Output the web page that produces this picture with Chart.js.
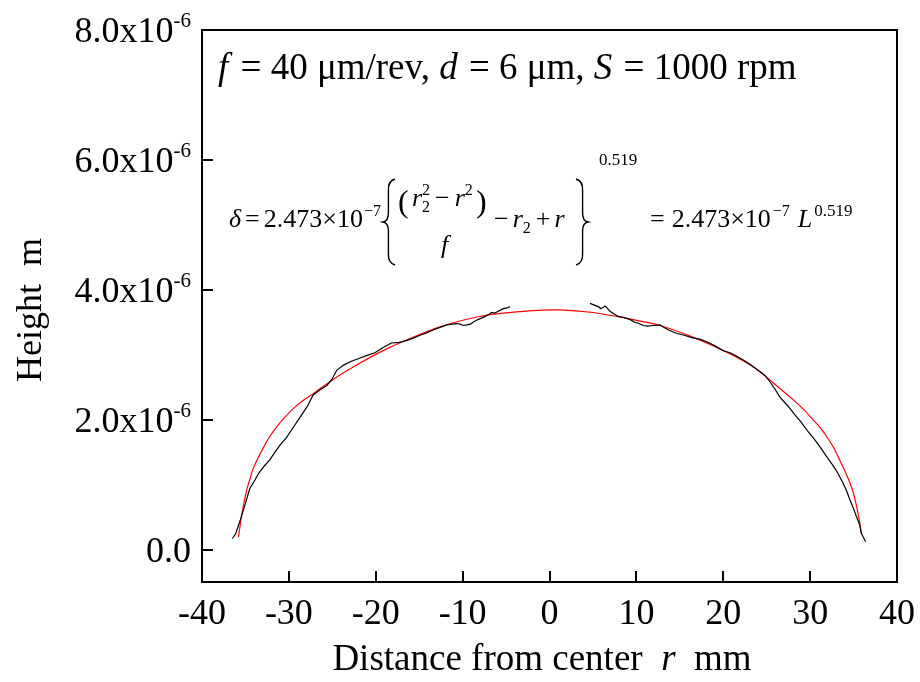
<!DOCTYPE html>
<html>
<head>
<meta charset="utf-8">
<script src="https://cdn.jsdelivr.net/npm/chart.js@4.4.1/dist/chart.umd.min.js"></script>
<style>
html,body{margin:0;padding:0;background:#fff;}
#wrap{width:920px;height:682px;position:relative;}
</style>
</head>
<body>
<div id="wrap"><canvas id="c" width="920" height="682"></canvas></div>
<script>
// ---- data (heights in units of 1e-6 m) ----
const xTickValues = [-40, -30, -20, -10, 0, 10, 20, 30, 40];
const xTickLabels = ["-40", "-30", "-20", "-10", "0", "10", "20", "30", "40"];
const yTickValues = [0, 2, 4, 6, 8];
const yTickMantissa = ["0.0", "2.0x10", "4.0x10", "6.0x10", "8.0x10"];
const yTickExponent = ["", "-6", "-6", "-6", "-6"];

// measured profile, left part
const measLeftR = [-36.5, -36.1, -35.6, -35.0, -34.5, -33.9, -33.5, -32.8, -32.2, -31.6, -31.0, -30.3, -29.7, -28.7, -27.9, -27.2, -26.4, -25.6, -25.0, -24.5, -23.7, -22.8, -21.8, -21.0, -20.1, -19.3, -18.2, -17.3, -16.4, -15.6, -14.9, -14.1, -13.4, -12.6, -11.8, -10.7, -10.3, -9.9, -9.5, -9.1, -8.8, -8.4, -7.9, -7.4, -7.0, -6.65, -6.3, -5.9, -5.6, -5.3, -4.9, -4.55];
const measLeftH = [0.17, 0.25, 0.45, 0.71, 0.94, 1.07, 1.17, 1.29, 1.38, 1.50, 1.61, 1.72, 1.84, 2.04, 2.20, 2.38, 2.46, 2.53, 2.63, 2.76, 2.84, 2.90, 2.95, 2.99, 3.03, 3.10, 3.18, 3.19, 3.22, 3.26, 3.30, 3.34, 3.38, 3.42, 3.46, 3.48, 3.47, 3.45, 3.46, 3.47, 3.50, 3.53, 3.56, 3.59, 3.62, 3.65, 3.64, 3.67, 3.69, 3.71, 3.72, 3.74];
// measured profile, right part
const measRightR = [4.66, 5.24, 5.6, 5.9, 6.2, 6.4, 6.7, 6.96, 7.4, 7.9, 8.4, 8.9, 9.3, 9.8, 10.3, 10.8, 11.3, 11.9, 12.3, 12.7, 13.2, 13.7, 14.6, 15.5, 16.5, 17.3, 18.1, 19.0, 20.0, 20.8, 21.5, 22.3, 23.1, 23.6, 24.2, 24.8, 25.4, 26.0, 26.5, 27.1, 27.7, 28.2, 28.8, 29.3, 29.8, 30.7, 31.3, 31.9, 32.5, 33.0, 33.4, 33.8, 34.2, 34.6, 35.0, 35.35, 35.7, 35.9, 36.15, 36.4];
const measRightH = [3.79, 3.76, 3.74, 3.71, 3.73, 3.75, 3.71, 3.67, 3.63, 3.59, 3.58, 3.56, 3.54, 3.50, 3.48, 3.45, 3.44, 3.45, 3.45, 3.46, 3.42, 3.38, 3.33, 3.30, 3.26, 3.24, 3.20, 3.14, 3.06, 3.03, 2.98, 2.92, 2.85, 2.80, 2.74, 2.68, 2.58, 2.46, 2.35, 2.26, 2.17, 2.08, 1.99, 1.90, 1.81, 1.66, 1.55, 1.43, 1.32, 1.22, 1.12, 1.02, 0.90, 0.76, 0.63, 0.50, 0.38, 0.25, 0.18, 0.12];
// fitted curve
const fitR = [-35.8, -35.6, -35.4, -35.1, -34.85, -34.5, -34.1, -33.5, -32.9, -32.2, -31.4, -30.5, -29.5, -28.4, -27.2, -24.9, -22.2, -19.5, -16.4, -12.6, -7.6, -1.9, 1.2, 5.0, 8.9, 12.7, 16.5, 20.4, 23.5, 25.8, 28.1, 29.3, 30.4, 31.2, 31.9, 32.7, 33.4, 34.0, 34.6, 35.0, 35.35, 35.65, 35.9];
const fitH = [0.19, 0.38, 0.56, 0.76, 0.92, 1.08, 1.25, 1.42, 1.58, 1.74, 1.89, 2.03, 2.17, 2.29, 2.40, 2.62, 2.84, 3.04, 3.23, 3.43, 3.60, 3.68, 3.69, 3.65, 3.56, 3.45, 3.27, 3.04, 2.81, 2.56, 2.30, 2.15, 1.99, 1.87, 1.74, 1.57, 1.38, 1.21, 1.02, 0.86, 0.66, 0.46, 0.25];

const xTitle = ["Distance from center  ", "r", "  mm"];
const yTitle = "Height  m";

const zip = (a, b) => a.map((v, i) => ({x: v, y: b[i]}));
const SERIF = '"Liberation Serif", "Times New Roman", serif';

const framePlugin = {
  id: 'frame',
  afterDraw(chart) {
    const ctx = chart.ctx, ca = chart.chartArea;
    const xs = chart.scales.x, ys = chart.scales.y;
    ctx.save();
    ctx.strokeStyle = '#000';
    ctx.lineWidth = 2;
    ctx.strokeRect(ca.left, ca.top, ca.right - ca.left, ca.bottom - ca.top);
    // inward ticks
    ctx.beginPath();
    xTickValues.forEach(v => {
      const px = Math.round(xs.getPixelForValue(v));
      ctx.moveTo(px, ca.bottom); ctx.lineTo(px, ca.bottom - 11);
    });
    yTickValues.forEach(v => {
      const py = Math.round(ys.getPixelForValue(v));
      ctx.moveTo(ca.left, py); ctx.lineTo(ca.left + 11, py);
    });
    ctx.stroke();
    ctx.fillStyle = '#000';
    // x tick labels
    ctx.font = '36px ' + SERIF;
    ctx.textAlign = 'center';
    ctx.textBaseline = 'alphabetic';
    xTickValues.forEach((v, i) => {
      ctx.fillText(xTickLabels[i], xs.getPixelForValue(v), 624);
    });
    // y tick labels with superscript
    yTickValues.forEach((v, i) => {
      const py = ys.getPixelForValue(v);
      ctx.font = '21px ' + SERIF;
      const ew = ctx.measureText(yTickExponent[i]).width;
      ctx.textAlign = 'right';
      ctx.fillText(yTickExponent[i], 191, py - 3);
      ctx.font = '36px ' + SERIF;
      ctx.fillText(yTickMantissa[i], 191 - ew, py + 12);
    });
    // x title
    ctx.textAlign = 'left';
    const TF = '37px ' + SERIF, TFI = 'italic 37px ' + SERIF;
    ctx.font = TF;
    const w0 = ctx.measureText(xTitle[0]).width;
    ctx.font = TFI;
    const w1 = ctx.measureText(xTitle[1]).width;
    ctx.font = TF;
    const w2 = ctx.measureText(xTitle[2]).width;
    let sx = 542 - (w0 + w1 + w2) / 2;
    ctx.fillText(xTitle[0], sx, 670);
    ctx.font = TFI;
    ctx.fillText(xTitle[1], sx + w0, 670);
    ctx.font = TF;
    ctx.fillText(xTitle[2], sx + w0 + w1, 670);
    // y title
    ctx.save();
    ctx.font = '36px ' + SERIF;
    ctx.translate(41, 310);
    ctx.rotate(-Math.PI / 2);
    ctx.textAlign = 'center';
    ctx.fillText(yTitle, 0, 0);
    ctx.restore();

    // annotation line
    const runs = (x, y, parts) => {
      parts.forEach(p => {
        ctx.font = p.f;
        ctx.fillText(p.t, x, y + (p.dy || 0));
        x += ctx.measureText(p.t).width + (p.sp || 0);
      });
      return x;
    };
    ctx.textAlign = 'left';
    const R = '37px ' + SERIF, I = 'italic 37px ' + SERIF;
    runs(218, 79, [
      {t: 'f', f: I, sp: 3}, {t: ' = 40 \u03bcm/rev, ', f: R},
      {t: 'd', f: I, sp: 2}, {t: ' = 6 \u03bcm, ', f: R},
      {t: 'S', f: I, sp: 2}, {t: ' = 1000 rpm', f: R}
    ]);

    // equation
    const E = '26px ' + SERIF, EI = 'italic 26px ' + SERIF, ES = '16px ' + SERIF, ES2 = '17px ' + SERIF;
    const by = 227;
    runs(229, by, [
      {t: '\u03b4', f: EI, sp: 4}, {t: '=', f: E, sp: 4}, {t: '2.473\u00d710', f: E, sp: 1}, {t: '\u22127', f: ES, dy: -11}
    ]);
    const brace = (bx, top, bot, dir) => {
      const mid = (top + bot) / 2, w = 12 * dir;
      ctx.beginPath();
      ctx.lineWidth = 1.4;
      ctx.moveTo(bx + w, top);
      ctx.quadraticCurveTo(bx + w * 0.4, top + 2, bx + w * 0.45, top + 12);
      ctx.lineTo(bx + w * 0.45, mid - 9);
      ctx.quadraticCurveTo(bx + w * 0.45, mid - 1, bx, mid);
      ctx.quadraticCurveTo(bx + w * 0.45, mid + 1, bx + w * 0.45, mid + 9);
      ctx.lineTo(bx + w * 0.45, bot - 12);
      ctx.quadraticCurveTo(bx + w * 0.4, bot - 2, bx + w, bot);
      ctx.stroke();
    };
    brace(383, 179, 265, 1);
    // numerator
    ctx.font = '32px ' + SERIF;
    ctx.fillText('(', 398, 212);
    ctx.fillText(')', 476, 212);
    runs(412, 206, [{t: 'r', f: EI}, {t: '2', f: ES, dy: 6}]);
    runs(422, 206, [{t: '2', f: ES, dy: -11}]);
    runs(435, 206, [{t: '\u2212', f: E, sp: 5}, {t: 'r', f: EI}, {t: '2', f: ES, dy: -11}]);
    runs(441, 253, [{t: 'f', f: EI}]);
    runs(494, by, [{t: '\u2212', f: E, sp: 4}, {t: 'r', f: EI}, {t: '2', f: ES, dy: 6, sp: 5}, {t: '+', f: E, sp: 4}, {t: 'r', f: EI}]);
    brace(588, 179, 265, -1);
    runs(599, 165, [{t: '0.519', f: ES2}]);
    runs(650, by, [{t: '=', f: E, sp: 7}, {t: '2.473\u00d710', f: E, sp: 2}, {t: '\u22127', f: ES, dy: -11, sp: 8}, {t: 'L', f: EI, sp: 2}, {t: '0.519', f: ES2, dy: -11}]);
    ctx.restore();
  }
};

new Chart(document.getElementById('c'), {
  type: 'line',
  data: {
    datasets: [
      {data: zip(measLeftR, measLeftH), borderColor: '#000', borderWidth: 1.2, pointRadius: 0, tension: 0},
      {data: zip(measRightR, measRightH), borderColor: '#000', borderWidth: 1.2, pointRadius: 0, tension: 0},
      {data: zip(fitR, fitH), borderColor: '#ff0000', borderWidth: 1.2, pointRadius: 0, tension: 0.3}
    ]
  },
  options: {
    responsive: false,
    animation: false,
    devicePixelRatio: 1,
    layout: {padding: {left: 0, right: 23, top: 30, bottom: 0}},
    plugins: {legend: {display: false}, tooltip: {enabled: false}},
    scales: {
      x: {type: 'linear', min: -40, max: 40,
          grid: {display: false}, border: {display: false},
          ticks: {display: false},
          afterFit: s => { s.height = 100; }},
      y: {type: 'linear', min: -0.5, max: 8,
          grid: {display: false}, border: {display: false},
          ticks: {display: false},
          afterFit: s => { s.width = 202; }}
    }
  },
  plugins: [framePlugin]
});
</script>
</body>
</html>
